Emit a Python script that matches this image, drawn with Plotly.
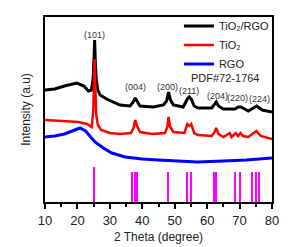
import plotly.graph_objects as go

# ---- data (arbitrary intensity units) ----
tio2_rgo_x = [10, 13, 16, 19.8, 22, 23.4, 24.3, 24.8, 25.1, 25.3, 25.5, 25.8, 26.3, 27, 29, 31, 33.1,
              36.2, 37.0, 37.8, 38.6, 39.3, 43.4, 46.5, 47.5, 48.1, 48.7, 49.6, 52.6, 53.9, 54.5,
              55.1, 56, 57.2, 61.4, 62.3, 62.8, 63.5, 65, 68.6, 69.6, 70.4, 72.7, 75.3, 77, 80]
tio2_rgo_y = [112, 113, 116, 119, 116, 111, 112, 122, 142, 162, 142, 122, 112, 107, 103, 100, 97,
              96, 99, 104, 100, 96, 95, 97, 101, 110, 102, 97, 95, 103, 105,
              103, 96, 94, 94, 98, 100, 96, 93, 93, 95, 95, 91, 96, 92, 90]

tio2_x = [10, 15, 20.3, 23, 24.4, 24.9, 25.1, 25.3, 25.5, 25.8, 26.3, 27.3, 30, 33.1, 36.5, 37.3,
          37.8, 38.4, 39.3, 43, 47, 47.7, 48.1, 48.6, 49.6, 53, 53.9, 54.5, 55.1, 56, 57.2, 61.4,
          62.3, 62.8, 63.5, 65, 67.0, 67.5, 68.8, 69.5, 70.3, 71.0, 72.7, 75.2, 76.5, 80]
tio2_y = [82, 81, 80, 78, 75, 92, 117, 143, 117, 87, 77, 72, 69, 68, 69, 74,
          82, 76, 70, 68, 69, 75, 85, 75, 70, 69, 78, 76, 78, 69, 67, 66,
          70, 74, 68, 65, 69, 65, 69, 66, 69, 66, 65, 71, 66, 63]

rgo_x = [10, 13, 16, 19, 20.8, 22.5, 25.4, 28, 30.6, 34.7, 40, 45, 50, 57, 65, 72, 80]
rgo_y = [65, 66, 68, 72, 74, 71, 60, 54, 49, 45, 43, 42, 41, 40, 41, 42, 44]

pdf_x = [25.28, 36.95, 37.80, 38.58, 48.05, 53.89, 55.06, 62.12, 62.69, 68.76, 70.31, 74.03, 75.03, 76.02]
pdf_h = [35, 30, 30, 30, 30, 30, 30, 30, 30, 30, 30, 30, 30, 30]

hkl_labels = ["(101)", "(004)", "(200)", "(211)", "(204)", "(220)", "(224)"]
hkl_x = [25.3, 37.8, 47.9, 54.4, 63.2, 69.5, 76.0]
hkl_y = [167, 115, 115, 111, 106, 104, 103]

x_ticks = [10, 20, 30, 40, 50, 60, 70, 80]

fig = go.Figure()

fig.add_trace(go.Bar(x=pdf_x, y=pdf_h, width=0.45, marker=dict(color="#ff00ff", line=dict(width=0)),
                     showlegend=False, hoverinfo="skip"))
fig.add_trace(go.Scatter(x=tio2_rgo_x, y=tio2_rgo_y, mode="lines", name="TiO₂/RGO",
                         line=dict(color="#000000", width=3)))
fig.add_trace(go.Scatter(x=tio2_x, y=tio2_y, mode="lines", name="TiO₂",
                         line=dict(color="#ff0000", width=2.5)))
fig.add_trace(go.Scatter(x=rgo_x, y=rgo_y, mode="lines", name="RGO",
                         line=dict(color="#0000ff", width=3)))

for lab, lx, ly in zip(hkl_labels, hkl_x, hkl_y):
    fig.add_annotation(x=lx, y=ly, text=lab, showarrow=False,
                       font=dict(family="Arial, Liberation Sans", size=9, color="#333333"))

fig.add_annotation(x=0.793, y=0.672, xref="paper", yref="paper", text="PDF#72-1764", showarrow=False,
                   xanchor="center", yanchor="middle",
                   font=dict(family="Arial, Liberation Sans", size=11, color="#222222"))

fig.update_layout(
    width=286, height=239,
    margin=dict(l=37, r=22, t=9, b=45, autoexpand=False),
    paper_bgcolor="white", plot_bgcolor="white",
    font=dict(family="Arial, Liberation Sans", color="#222222"),
    bargap=0,
    legend=dict(x=0.59, y=1.03, xanchor="left", yanchor="top", bgcolor="rgba(0,0,0,0)",
                font=dict(size=11, color="#222222"), tracegroupgap=0, itemwidth=30),
    xaxis=dict(range=[10, 80], tickvals=x_ticks, ticks="outside", ticklen=5, tickwidth=1.5,
               tickcolor="black", showline=True, linewidth=2, linecolor="black", mirror=True,
               showgrid=False, zeroline=False, tickfont=dict(size=13, color="#222222"),
               automargin=False,
               minor=dict(ticks="outside", dtick=5, tick0=5, ticklen=3, tickwidth=1.5, tickcolor="black"),
               title=dict(text="2 Theta (degree)", font=dict(size=12, color="#222222"), standoff=6)),
    yaxis=dict(range=[0, 185], showticklabels=False, ticks="", showline=True, linewidth=2,
               linecolor="black", mirror=True, showgrid=False, zeroline=False, automargin=False,
               title=dict(text="Intensity (a.u)", font=dict(size=12, color="#222222"), standoff=10)),
)

fig.write_html("out.html")
